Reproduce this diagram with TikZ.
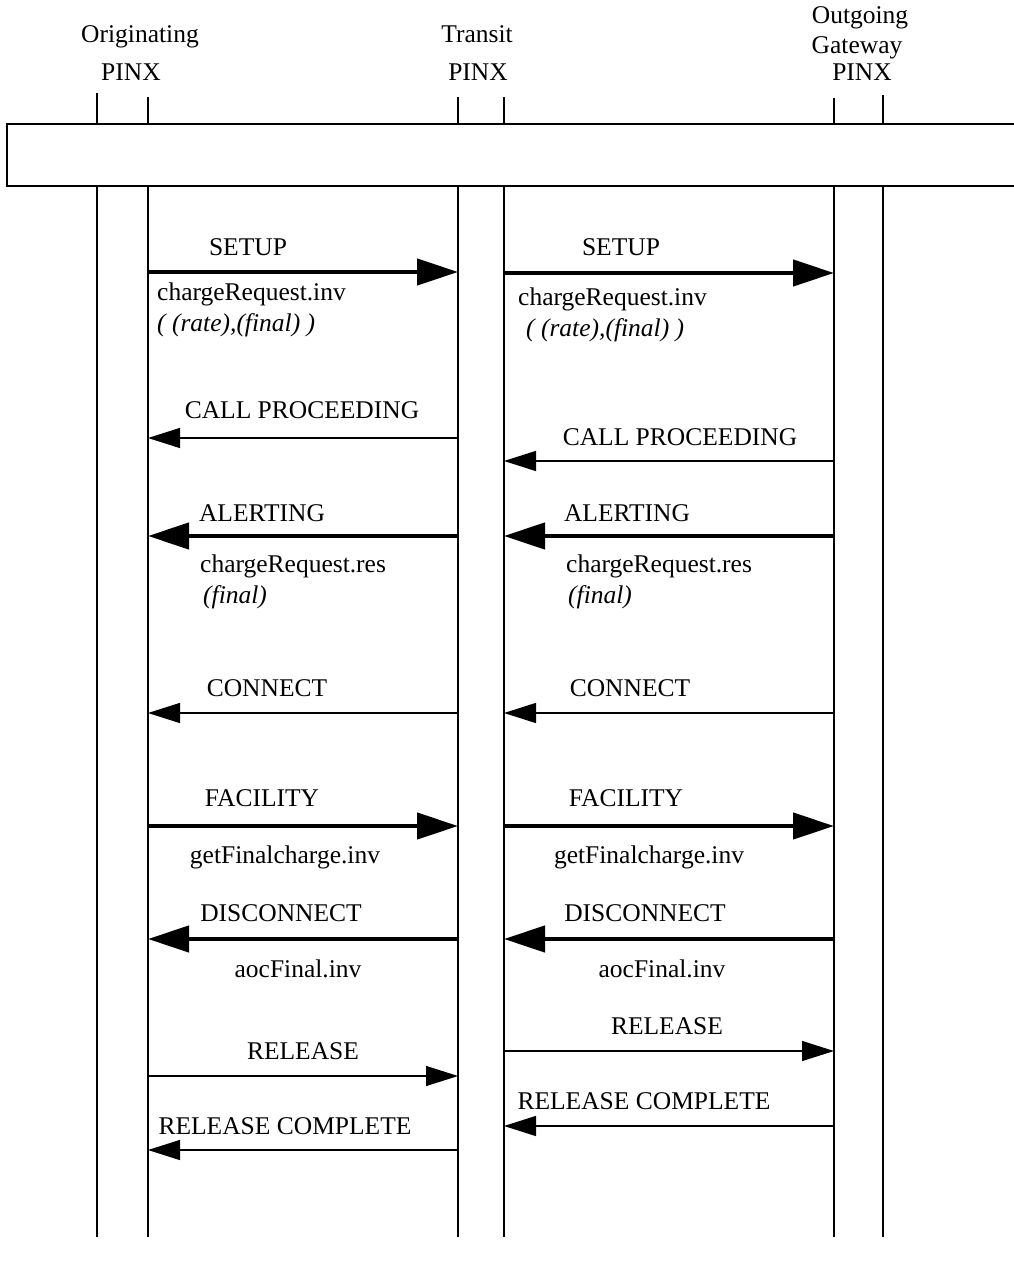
\documentclass[tikz,border=0pt]{standalone}
\usepackage{fontspec}
\setmainfont{Liberation Serif}
\usetikzlibrary{arrows.meta}
\begin{document}
\begin{tikzpicture}[x=1pt,y=-1pt,
  txt/.style={font=\fontsize{25.5}{30}\selectfont, inner sep=0pt, anchor=base},
  txtw/.style={txt, anchor=base west},
  itx/.style={txtw, font=\fontsize{25.5}{30}\selectfont\itshape},
  lifeline/.style={line width=1.6pt},
  barbox/.style={line width=1.2pt},
  msgthick/.style={line width=4.5pt, -{Triangle[length=41pt,width=26pt]}},
  msgthin/.style={line width=1.4pt, -{Triangle[length=32pt,width=20pt]}}
]
\useasboundingbox (0,0) rectangle (1013,1265);

% header labels
\node[txt] (hO1) at (140,43) {Originating};
\node[txt] (hO2) at (131,81) {PINX};
\node[txt] (hT1) at (477,43) {Transit};
\node[txt] (hT2) at (478,81) {PINX};
\node[txt] (hG1) at (860,24) {Outgoing};
\node[txt] (hG2) at (857,54) {Gateway};
\node[txt] (hG3) at (862,81) {PINX};

% bar
\draw[barbox] (7,124) rectangle (1040,186);

% lifelines
\foreach \x/\t in {97/93, 148/97, 458/97, 504/97, 834/98, 883/95}{
  \draw[lifeline] (\x,\t) -- (\x,124);
  \draw[lifeline] (\x,186) -- (\x,1237);
}

% message endpoints
\coordinate (s1a) at (148,272); \coordinate (s1b) at (458,272);
\coordinate (s2a) at (504,273); \coordinate (s2b) at (834,273);
\coordinate (c1a) at (458,438); \coordinate (c1b) at (148,438);
\coordinate (c2a) at (834,461); \coordinate (c2b) at (504,461);
\coordinate (a1a) at (458,536); \coordinate (a1b) at (148,536);
\coordinate (a2a) at (834,536); \coordinate (a2b) at (504,536);
\coordinate (n1a) at (458,713); \coordinate (n1b) at (148,713);
\coordinate (n2a) at (834,713); \coordinate (n2b) at (504,713);
\coordinate (f1a) at (148,826); \coordinate (f1b) at (458,826);
\coordinate (f2a) at (504,826); \coordinate (f2b) at (834,826);
\coordinate (d1a) at (458,939); \coordinate (d1b) at (148,939);
\coordinate (d2a) at (834,939); \coordinate (d2b) at (504,939);
\coordinate (r2a) at (504,1051); \coordinate (r2b) at (834,1051);
\coordinate (r1a) at (148,1076); \coordinate (r1b) at (458,1076);
\coordinate (rc2a) at (834,1126); \coordinate (rc2b) at (504,1126);
\coordinate (rc1a) at (458,1150); \coordinate (rc1b) at (148,1150);

% messages
\draw[msgthick] (s1a) -- (s1b);
\draw[msgthick] (s2a) -- (s2b);
\draw[msgthin] (c1a) -- (c1b);
\draw[msgthin] (c2a) -- (c2b);
\draw[msgthick] (a1a) -- (a1b);
\draw[msgthick] (a2a) -- (a2b);
\draw[msgthin] (n1a) -- (n1b);
\draw[msgthin] (n2a) -- (n2b);
\draw[msgthick] (f1a) -- (f1b);
\draw[msgthick] (f2a) -- (f2b);
\draw[msgthick] (d1a) -- (d1b);
\draw[msgthick] (d2a) -- (d2b);
\draw[msgthin] (r2a) -- (r2b);
\draw[msgthin] (r1a) -- (r1b);
\draw[msgthin] (rc2a) -- (rc2b);
\draw[msgthin] (rc1a) -- (rc1b);

% message labels
\node[txt] (ls1) at (248,255) {SETUP};
\node[txt] (ls2) at (621,255) {SETUP};
\node[txtw] (ls1x) at (157,300) {chargeRequest.inv};
\node[itx] (ls1y) at (157,331) {( (rate),(final) )};
\node[txtw] (ls2x) at (518,305) {chargeRequest.inv};
\node[itx] (ls2y) at (526,336) {( (rate),(final) )};

\node[txt] (lc1) at (302,418) {CALL PROCEEDING};
\node[txt] (lc2) at (680,445) {CALL PROCEEDING};

\node[txt] (la1) at (262,521) {ALERTING};
\node[txt] (la2) at (627,521) {ALERTING};
\node[txtw] (la1x) at (200,572) {chargeRequest.res};
\node[itx] (la1y) at (203,603) {(final)};
\node[txtw] (la2x) at (566,572) {chargeRequest.res};
\node[itx] (la2y) at (568,603) {(final)};

\node[txt] (ln1) at (267,696) {CONNECT};
\node[txt] (ln2) at (630,696) {CONNECT};

\node[txt] (lf1) at (262,806) {FACILITY};
\node[txt] (lf2) at (626,806) {FACILITY};
\node[txt] (lf1x) at (285,863) {getFinalcharge.inv};
\node[txt] (lf2x) at (649,863) {getFinalcharge.inv};

\node[txt] (ld1) at (281,921) {DISCONNECT};
\node[txt] (ld2) at (645,921) {DISCONNECT};
\node[txt] (ld1x) at (298,977) {aocFinal.inv};
\node[txt] (ld2x) at (662,977) {aocFinal.inv};

\node[txt] (lr2) at (667,1034) {RELEASE};
\node[txt] (lr1) at (303,1059) {RELEASE};
\node[txt] (lrc2) at (644,1109) {RELEASE COMPLETE};
\node[txt] (lrc1) at (285,1134) {RELEASE COMPLETE};
\end{tikzpicture}
\end{document}
